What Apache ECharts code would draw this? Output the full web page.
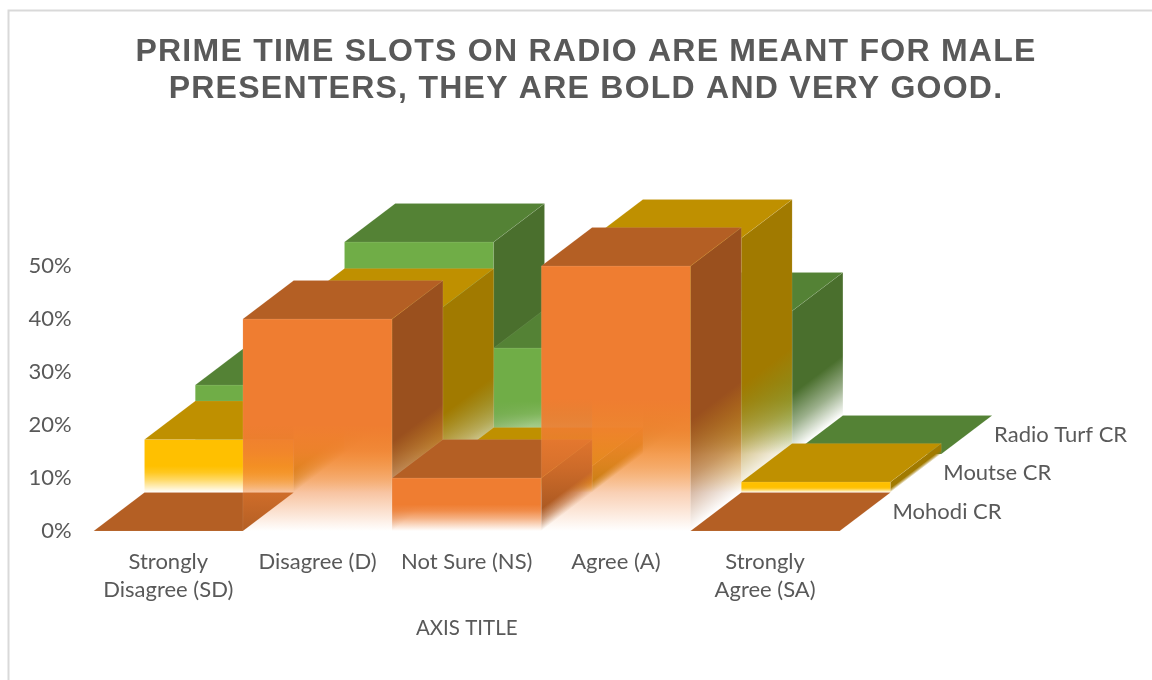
<!DOCTYPE html>
<html>
<head>
<meta charset="utf-8">
<style>html,body{margin:0;padding:0;background:#fff}#c{width:1152px;height:680px}</style>
<script src="https://cdn.jsdelivr.net/npm/echarts@6/dist/echarts.min.js"></script>
</head>
<body>
<div id="c"></div>
<script>
const titleText = 'PRIME TIME SLOTS ON RADIO ARE MEANT FOR MALE\nPRESENTERS, THEY ARE BOLD AND VERY GOOD.';
const xName = 'AXIS TITLE';
const categories = ['Strongly\nDisagree (SD)', 'Disagree (D)', 'Not Sure (NS)', 'Agree (A)', 'Strongly\nAgree (SA)'];
const mohodi = [0, 40, 10, 50, 0];
const moutse = [10, 35, 5, 48, 2];
const radioTurf = [13, 40, 20, 27, 0];
const rowNames = ['Mohodi CR', 'Moutse CR', 'Radio Turf CR'];

const depthX = 50.8, depthY = 38.5;
const palette = [
  {front: [239,125,49], top: '#B45F24', side: [154,80,30]},
  {front: [255,192,0], top: '#BF9000', side: [161,122,0]},
  {front: [112,173,71], top: '#548235', side: [74,111,45]}
];
const edge = 'rgba(255,255,255,0.08)';
const rgba = (c, a) => `rgba(${c[0]},${c[1]},${c[2]},${a})`;

// the bold title is letter-spaced; the canvas has its own setting for that
const baseFillText = CanvasRenderingContext2D.prototype.fillText;
CanvasRenderingContext2D.prototype.fillText = function (t, x, y, m) {
  this.letterSpacing = /bold/.test(this.font) ? '1.25px' : '0px';
  return m === undefined ? baseFillText.call(this, t, x, y) : baseFillText.call(this, t, x, y, m);
};

function frontStops(c) {
  return [
    {offset: 0, color: rgba(c, 1)},
    {offset: 0.5, color: rgba(c, 1)},
    {offset: 0.62, color: rgba(c, 0.88)},
    {offset: 0.76, color: rgba(c, 0.6)},
    {offset: 1, color: rgba(c, 0)}
  ];
}
function sideStops(c) {
  return [
    {offset: 0, color: rgba(c, 1)},
    {offset: 0.58, color: rgba(c, 1)},
    {offset: 0.8, color: rgba(c, 0.55)},
    {offset: 1, color: rgba(c, 0)}
  ];
}

function barSeries(values, row) {
  const pal = palette[row];
  const ox = depthX * row, oy = -depthY * row;
  return {
    type: 'custom',
    name: rowNames[row],
    coordinateSystem: 'cartesian2d',
    clip: false,
    encode: {x: 0, y: 1},
    data: values.map((v, i) => [i, v]),
    renderItem: function (params, api) {
      const i = api.value(0), v = api.value(1);
      const band = api.size([1, 0])[0];
      const t = api.coord([i, v]), b = api.coord([i, 0]);
      const x0 = b[0] - band / 2 + ox, x1 = x0 + band;
      const yBase = b[1] + oy, yTop = t[1] + oy;
      const h = yBase - yTop;
      const children = [];
      if (h > 0) {
        children.push({
          type: 'polygon',
          shape: {points: [[x0, yTop], [x1, yTop], [x1, yBase], [x0, yBase]]},
          style: {fill: new echarts.graphic.LinearGradient(0, yTop, 0, yBase, frontStops(pal.front), true), stroke: edge, lineWidth: 1}
        });
        // side face fades along the normal of its bottom edge
        const len = Math.hypot(depthX, depthY);
        const nx = -depthY / len, ny = -depthX / len;
        const dist = h * depthX / len;
        children.push({
          type: 'polygon',
          shape: {points: [[x1, yTop], [x1 + depthX, yTop - depthY], [x1 + depthX, yBase - depthY], [x1, yBase]]},
          style: {fill: new echarts.graphic.LinearGradient(x1 + nx * dist, yBase + ny * dist, x1, yBase, sideStops(pal.side), true), stroke: edge, lineWidth: 1}
        });
      }
      children.push({
        type: 'polygon',
        shape: {points: [[x0, yTop], [x1, yTop], [x1 + depthX, yTop - depthY], [x0 + depthX, yTop - depthY]]},
        style: {fill: pal.top, stroke: edge, lineWidth: 1}
      });
      return {type: 'group', children};
    }
  };
}

const rowLabelSeries = {
  type: 'custom',
  coordinateSystem: 'cartesian2d',
  clip: false,
  silent: true,
  z: 5,
  encode: {x: 0, y: 1},
  data: rowNames.map((n, r) => [categories.length - 1, 0, r]),
  renderItem: function (params, api) {
    const r = api.value(2);
    const band = api.size([1, 0])[0];
    const p = api.coord([api.value(0), api.value(1)]);
    return {
      type: 'text',
      style: {
        x: p[0] + band / 2 + depthX * (r + 1) + 2,
        y: p[1] - depthY * (r + 0.5),
        text: rowNames[r],
        fill: '#595959',
        font: '22px Lato',
        verticalAlign: 'middle',
        align: 'left'
      }
    };
  }
};

const chart = echarts.init(document.getElementById('c'), null, {renderer: 'canvas'});
chart.setOption({
  animation: false,
  backgroundColor: '#fff',
  graphic: [{
    type: 'rect', z: -1, silent: true,
    shape: {x: 8.5, y: 10.5, width: 1300, height: 800},
    style: {fill: '#fff', stroke: '#D9D9D9', lineWidth: 2}
  }],
  title: {
    text: titleText, left: 581, top: 29, textAlign: 'center',
    textStyle: {fontFamily: 'Liberation Sans', fontWeight: 'bold', fontSize: 32, lineHeight: 36.5, color: '#595959'}
  },
  grid: {left: 93.7, right: 312.3, top: 266, bottom: 149},
  xAxis: {
    type: 'category', data: categories, boundaryGap: true,
    axisLine: {show: false}, axisTick: {show: false}, splitLine: {show: false},
    axisLabel: {interval: 0, margin: 17, color: '#595959', fontFamily: 'Lato', fontSize: 22, lineHeight: 28},
    name: xName, nameLocation: 'middle', nameGap: 87,
    nameTextStyle: {color: '#595959', fontFamily: 'Lato', fontSize: 20.5}
  },
  yAxis: {
    type: 'value', min: 0, max: 50, interval: 10,
    axisLine: {show: false}, axisTick: {show: false}, splitLine: {show: false},
    axisLabel: {formatter: '{value}%', margin: 22, color: '#595959', fontFamily: 'Lato', fontSize: 22, padding: [2, 0, 0, 0]}
  },
  series: [barSeries(radioTurf, 2), barSeries(moutse, 1), barSeries(mohodi, 0), rowLabelSeries]
});
</script>
</body>
</html>
